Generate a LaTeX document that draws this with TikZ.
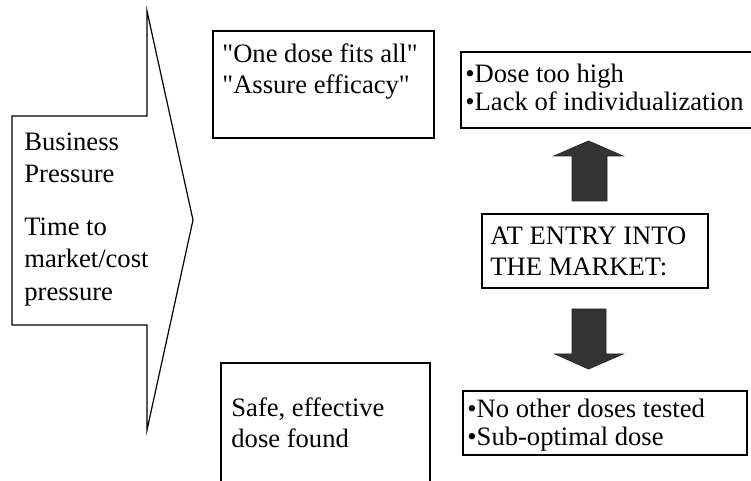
\documentclass[tikz,border=0pt]{standalone}
\usepackage{fontspec}
\setmainfont{Liberation Serif}[Ligatures=TeXOff]
\usetikzlibrary{positioning}

\tikzset{
  txt/.style={align=left, inner sep=0pt, font=\fontsize{13.3}{15.5}\selectfont},
  bullets/.style={txt, font=\fontsize{13.3}{14}\selectfont},
  frame/.style={draw=black, line width=0.6pt},
  blockarrow/.style={fill=black!80, draw=black!85, line width=0.4pt},
}

\begin{document}
\begin{tikzpicture}[x=0.5pt, y=-0.5pt]
  \useasboundingbox (0,0) rectangle (751,481);

  % Big pressure arrow
  \draw[frame] (12,116) -- (147,116) -- (147,11) -- (193,220)
    -- (147,430) -- (147,325) -- (12,325) -- cycle;
  \coordinate (pressureNW) at (12,116);
  \node[txt, font=\fontsize{13.3}{16.3}\selectfont,
    below right=8pt and 6pt of pressureNW] (pressure)
    {Business\\Pressure\\[10pt]Time to\\market/cost\\pressure};

  % Boxes to the right of the arrow
  \draw[frame] (213,31) rectangle (434,138);
  \coordinate (fitsNW) at (213,31);
  \node[txt, below right=6pt and 4.5pt of fitsNW] (fits)
    {"One dose fits all"\\"Assure efficacy"};

  \draw[frame] (221,481) -- (221,363) -- (430,363) -- (430,481);
  \coordinate (safeNW) at (221,363);
  \node[txt, below right=17pt and 5pt of safeNW] (safe)
    {Safe, effective\\dose found};

  % Market entry and its outcomes
  \draw[frame] (461,52) rectangle (760,128);
  \coordinate (highNW) at (461,52);
  \node[bullets, below right=6pt and 2pt of highNW] (high)
    {•Dose too high\\•Lack of individualization};

  \draw[frame] (482,214) rectangle (708,288);
  \coordinate (entryNW) at (482,214);
  \node[txt, below right=6pt and 4pt of entryNW] (entry)
    {AT ENTRY INTO\\THE MARKET:};

  \draw[frame] (463,391) rectangle (747,455);
  \coordinate (lowNW) at (463,391);
  \node[bullets, below right=4pt and 2pt of lowNW] (low)
    {•No other doses tested\\•Sub-optimal dose};

  % Block arrows up and down
  \filldraw[blockarrow] (572,201) -- (572,156) -- (554,156) -- (588.5,141)
    -- (623,156) -- (607,156) -- (607,201) -- cycle;
  \filldraw[blockarrow] (572,309) -- (572,354) -- (555,354) -- (588.5,369)
    -- (623,354) -- (606,354) -- (606,309) -- cycle;
\end{tikzpicture}
\end{document}
